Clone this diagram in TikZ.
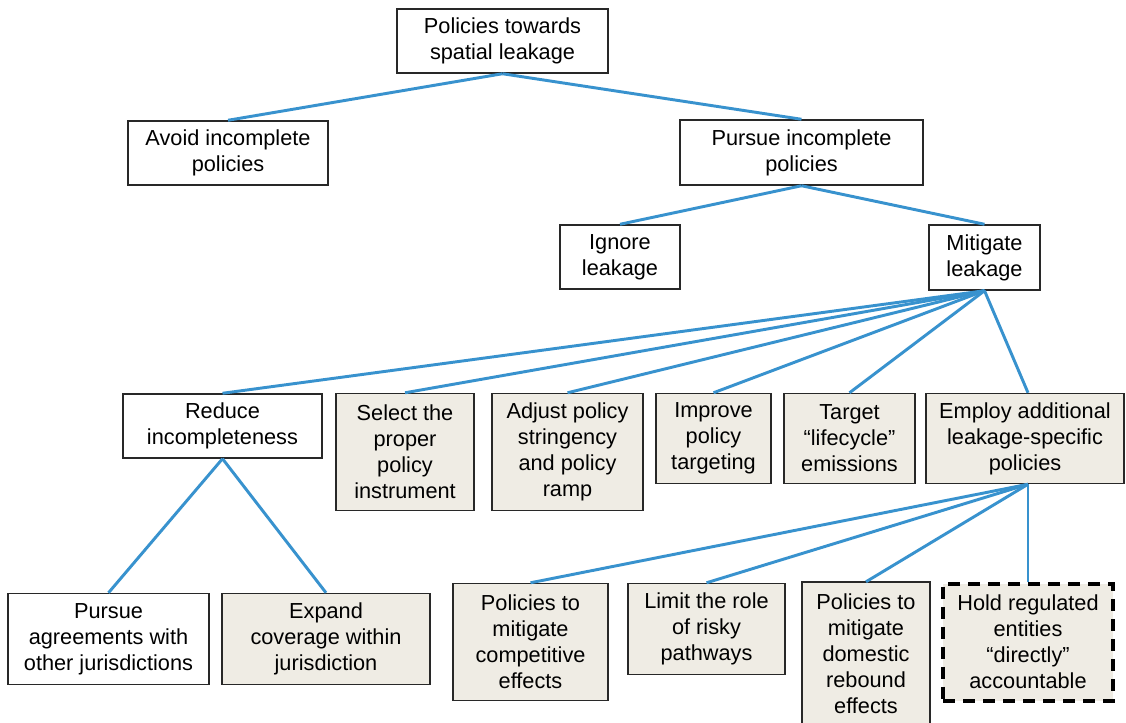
\documentclass[tikz,border=0pt]{standalone}
\usepackage{fontspec}
\setmainfont{Liberation Sans}
\definecolor{linkblue}{RGB}{56,146,206}
\definecolor{boxfill}{RGB}{239,236,228}
\definecolor{boxline}{RGB}{40,40,40}
\begin{document}
\begin{tikzpicture}[x=0.75pt,y=-0.75pt,
  sz/.style 2 args={minimum width=#1*0.75pt, minimum height=#2*0.75pt},
  plainbox/.style={draw=boxline, line width=1.1pt, fill=white, inner sep=0pt, align=center,
     font=\fontsize{16.3}{19.5}\selectfont},
  tanbox/.style={plainbox, fill=boxfill},
  dashbox/.style={tanbox, draw=black, line width=3pt, dash pattern=on 9pt off 6pt},
  conn/.style={draw=linkblue, line width=2.2pt}]
\useasboundingbox (0,0) rectangle (1126,722);
\fill[white] (0,0) rectangle (1126,722);
% nodes
\node[plainbox, sz={211}{64}] (top) at (502.5,41) {Policies towards\\spatial leakage};
\node[plainbox, sz={200}{64}] (avoid) at (228,153) {Avoid incomplete\\policies};
\node[plainbox, sz={243}{65}] (pursue) at (801.5,152.5) {Pursue incomplete\\policies};
\node[plainbox, sz={120}{64}] (ignore) at (620,257) {Ignore\\leakage};
\node[plainbox, sz={111}{65}] (mitig) at (984.5,257.5) {Mitigate\\leakage};
\node[plainbox, sz={199}{64}] (reduce) at (222.5,426) {Reduce\\incompleteness};
\node[tanbox, sz={138}{117}] (select) at (405,452) {Select the\\proper\\policy\\instrument};
\node[tanbox, sz={151}{117}] (adjust) at (567.5,452) {Adjust policy\\stringency\\and policy\\ramp};
\node[tanbox, sz={115}{90}] (improve) at (713.5,438.5) {Improve\\policy\\targeting};
\node[tanbox, sz={131}{90}] (target) at (849.5,438.5) {Target\\“lifecycle”\\emissions};
\node[tanbox, sz={198}{90}] (employ) at (1025,438.5) {Employ additional\\leakage-specific\\policies};
\node[plainbox, sz={201}{91}] (agree) at (108.5,639) {Pursue\\agreements with\\other jurisdictions};
\node[tanbox, sz={208}{91}] (expand) at (326,639) {Expand\\coverage within\\jurisdiction};
\node[tanbox, sz={155}{117}] (compet) at (530.5,642) {Policies to\\mitigate\\competitive\\effects};
\node[tanbox, sz={157}{91}] (limit) at (706.5,629) {Limit the role\\of risky\\pathways};
\fill[boxfill, draw=boxline, line width=1.1pt] (802,582) rectangle (930,740);
\node[tanbox, draw=none, fill=none, sz={128}{142}] (domestic) at (866,653.5) {Policies to\\mitigate\\domestic\\rebound\\effects};
\node[dashbox, sz={170}{117}] (hold) at (1028,642) {Hold regulated\\entities\\“directly”\\accountable};
% connectors
\draw[conn] (top.south) -- (avoid.north);
\draw[conn] (top.south) -- (pursue.north);
\draw[conn] (pursue.south) -- (ignore.north);
\draw[conn] (pursue.south) -- (mitig.north);
\draw[conn] (mitig.south) -- (reduce.north);
\draw[conn] (mitig.south) -- (select.north);
\draw[conn] (mitig.south) -- (adjust.north);
\draw[conn] (mitig.south) -- (improve.north);
\draw[conn] (mitig.south) -- (target.north);
\draw[conn] (mitig.south) -- ([xshift=2.25pt]employ.north);
\draw[conn] (reduce.south) -- (agree.north);
\draw[conn] (reduce.south) -- (expand.north);
\draw[conn] ([xshift=2.25pt]employ.south) -- (compet.north);
\draw[conn] ([xshift=2.25pt]employ.south) -- (limit.north);
\draw[conn] ([xshift=2.25pt]employ.south) -- (domestic.north);
\draw[conn] ([xshift=2.25pt]employ.south) -- (hold.north);
\end{tikzpicture}
\end{document}
